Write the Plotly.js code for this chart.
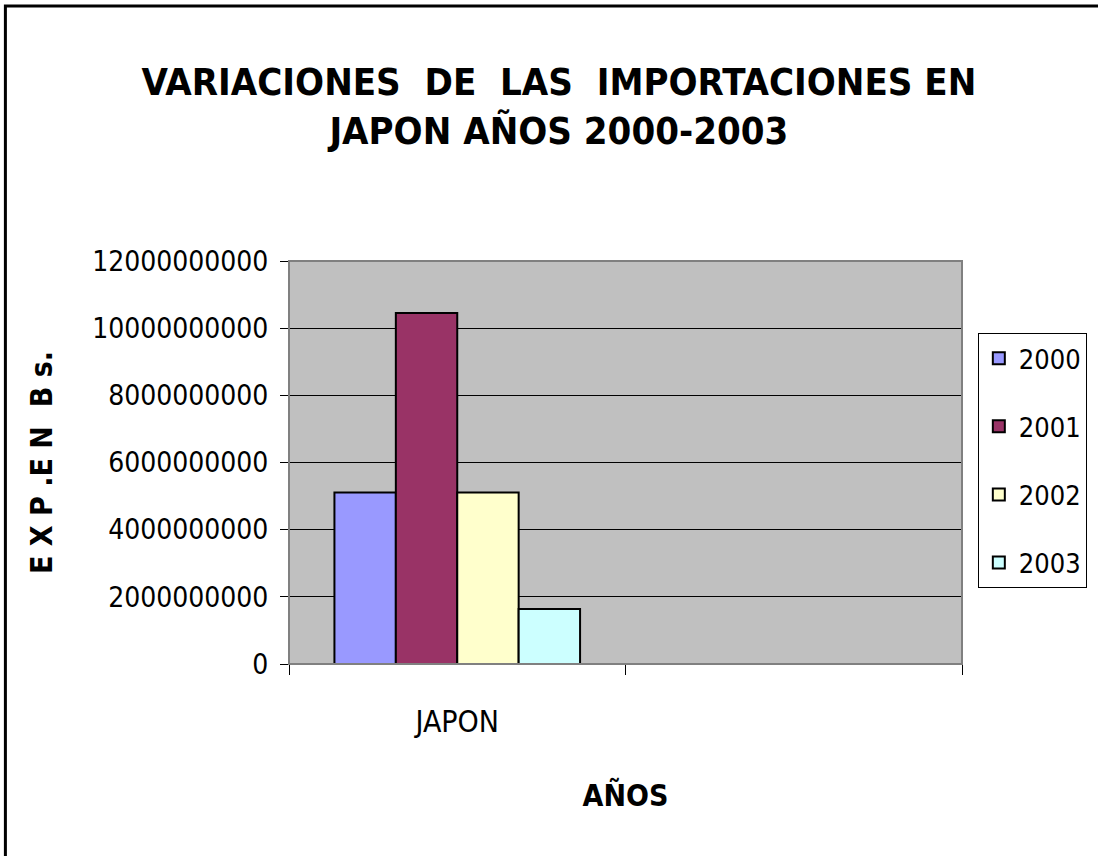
<!DOCTYPE html>
<html>
<head>
<meta charset="utf-8">
<script src="https://cdn.plot.ly/plotly-3.0.1.min.js"></script>
<style>
  html, body { margin: 0; padding: 0; background: #ffffff; }
  #chart { width: 1098px; height: 856px; }
</style>
</head>
<body>
<div id="chart"></div>
<script>
// ---- Data ----
const categories = ["JAPON", " "];
const seriesNames = ["2000", "2001", "2002", "2003"];
const values2000 = [5110000000, null];
const values2001 = [10455000000, null];
const values2002 = [5110000000, null];
const values2003 = [1635000000, null];
const yTickValues = [0, 2000000000, 4000000000, 6000000000, 8000000000, 10000000000, 12000000000];
const yTickLabels = ["0", "2000000000", "4000000000", "6000000000", "8000000000", "10000000000", "12000000000"];

const chartTitle = "VARIACIONES  DE  LAS  IMPORTACIONES EN<br>JAPON AÑOS 2000-2003";
const xTitle = "AÑOS";
const yTitle = "E X P .E N  B s.";

const seriesValues = [values2000, values2001, values2002, values2003];
const seriesColors = ["#9999FF", "#993366", "#FFFFCC", "#CCFFFF"];

const COND = "'DejaVu Sans Condensed', 'Liberation Sans', Arial, sans-serif";

const traces = seriesNames.map((name, i) => ({
  type: "bar",
  name: name,
  x: categories,
  y: seriesValues[i],
  legendgroup: "g" + i,
  marker: { color: seriesColors[i], line: { color: "#000000", width: 2 } },
  hoverinfo: "x+y+name"
}));

const layout = {
  width: 1098,
  height: 856,
  paper_bgcolor: "#ffffff",
  plot_bgcolor: "#C0C0C0",
  margin: { l: 289, r: 135, t: 261, b: 192, pad: 0 },
  barmode: "group",
  bargap: 0.27,
  bargroupgap: 0,
  showlegend: true,
  title: {
    text: chartTitle,
    font: { family: COND, size: 38, color: "#000000", weight: "bold" },
    xref: "container", x: 0.509, xanchor: "center",
    yref: "container", y: 0.889, yanchor: "middle"
  },
  xaxis: {
    type: "category",
    categoryorder: "array",
    categoryarray: categories,
    range: [-0.5, 1.5],
    tickson: "boundaries",
    ticks: "outside",
    ticklen: 10,
    tickcolor: "#000000",
    tickwidth: 1,
    showline: true,
    linecolor: "#000000",
    linewidth: 1,
    showgrid: false,
    zeroline: false,
    ticklabelstandoff: 31,
    tickfont: { family: COND, size: 30, color: "#000000" },
    title: {
      text: xTitle,
      font: { family: COND, size: 30, color: "#000000", weight: "bold" },
      standoff: 46
    },
    fixedrange: true
  },
  yaxis: {
    range: [0, 12000000000],
    tickmode: "array",
    tickvals: yTickValues,
    ticktext: yTickLabels,
    ticks: "outside",
    ticklen: 8,
    tickcolor: "#000000",
    tickwidth: 1,
    showline: true,
    linecolor: "#000000",
    linewidth: 1,
    showgrid: true,
    gridcolor: "#000000",
    gridwidth: 1,
    zeroline: false,
    ticklabelstandoff: 6,
    tickfont: { family: COND, size: 28, color: "#000000" },
    title: {
      text: yTitle,
      font: { family: COND, size: 30, color: "#000000", weight: "bold" },
      standoff: 30
    },
    fixedrange: true
  },
  legend: {
    x: 1.022, xanchor: "left", xref: "paper",
    y: 0.821, yanchor: "top", yref: "paper",
    bgcolor: "#ffffff",
    bordercolor: "#000000",
    borderwidth: 1,
    font: { family: COND, size: 27, color: "#000000" },
    traceorder: "grouped",
    tracegroupgap: 30,
    itemwidth: 30
  },
  shapes: [
    {
      type: "rect", xref: "paper", yref: "paper",
      x0: 0, x1: 1, y0: 0, y1: 1,
      line: { color: "#808080", width: 2 },
      fillcolor: "rgba(0,0,0,0)",
      layer: "above"
    },
    {
      type: "rect", xref: "paper", yref: "paper",
      x0: -0.4214, x1: 1.35, y0: -0.55, y1: 1.6328,
      line: { color: "#000000", width: 3 },
      fillcolor: "rgba(0,0,0,0)",
      layer: "above"
    }
  ]
};

Plotly.newPlot("chart", traces, layout, { displayModeBar: false, staticPlot: false });
</script>
</body>
</html>
